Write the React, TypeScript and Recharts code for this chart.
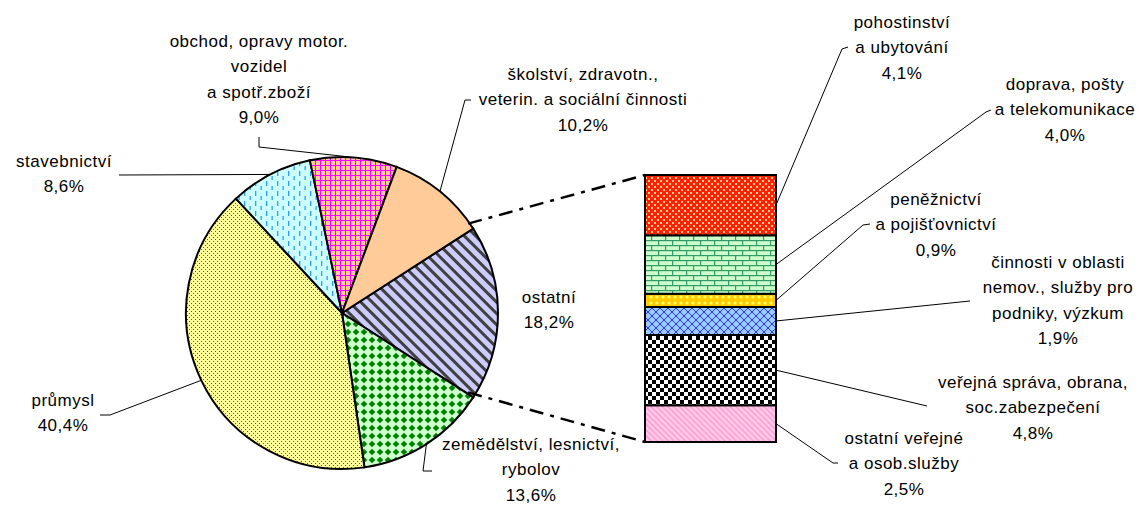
import { PieChart, Pie, Cell, BarChart, Bar, XAxis, YAxis } from 'recharts'

/* Koláč s vyčleněným sloupcem: struktura odvětví, „ostatní" rozpadnuté do sloupce vpravo. */

const W = 1141
const H = 506
const FONT = '"Liberation Sans", Arial, sans-serif'

// hlavní koláč — pořadí po směru hodin od „ostatní" (střed na 3 hodinách)
const PIE_LINES: string[][] = [
  ['ostatní'],
  ['zemědělství, lesnictví,', 'rybolov'],
  ['průmysl'],
  ['stavebnictví'],
  ['obchod, opravy motor.', 'vozidel', 'a spotř.zboží'],
  ['školství, zdravotn.,', 'veterin. a sociální činnosti'],
]
const PIE_VALUES = [18.2, 13.6, 40.4, 8.6, 9.0, 10.2]
const PIE_FILLS = ['url(#pOst)', 'url(#pZem)', 'url(#pPrum)', 'url(#pStav)', 'url(#pObch)', '#FFCC99']

// sloupec „ostatní" — shora dolů
const BAR_KEYS = ['pohost', 'doprava', 'penez', 'cinnosti', 'verejna', 'ostverej']
const BAR_LINES: string[][] = [
  ['pohostinství', 'a ubytování'],
  ['doprava, pošty', 'a telekomunikace'],
  ['peněžnictví', 'a pojišťovnictví'],
  ['činnosti v oblasti', 'nemov., služby pro', 'podniky, výzkum'],
  ['veřejná správa, obrana,', 'soc.zabezpečení'],
  ['ostatní veřejné', 'a osob.služby'],
]
const BAR_VALUES = [4.1, 4.0, 0.9, 1.9, 4.8, 2.5]
const BAR_FILLS = ['url(#bPoh)', 'url(#bDop)', 'url(#bPen)', 'url(#bCin)', 'url(#bVer)', 'url(#bOst)']

// rozložení popisků (střed textu, první řádek) a lomy vodicích čar
const PIE_CX = 337
const PIE_CY = 308
const PIE_R = 156
const LINE_H = 25.5
const PIE_LABEL_POS = [
  { x: 549, y: 297 },
  { x: 531, y: 444 },
  { x: 63, y: 400 },
  { x: 64, y: 161 },
  { x: 259, y: 41 },
  { x: 583, y: 74 },
]
const PIE_LEADER: number[][][] = [
  [],
  [[423, 471], [432, 471]],
  [[110, 415], [100, 415]],
  [[119, 175]],
  [[259, 147], [259, 137]],
  [[465, 100], [471, 100]],
]
const BAR_LABEL_POS = [
  { x: 902, y: 22 },
  { x: 1065, y: 84 },
  { x: 936, y: 199 },
  { x: 1058, y: 262 },
  { x: 1033, y: 382 },
  { x: 904, y: 438 },
]
const BAR_LEADER: number[][][] = [
  [[842, 49], [848, 47]],
  [[986, 112], [991, 110]],
  [[863, 225], [870, 224]],
  [[970, 301]],
  [[927, 406]],
  [[833, 463], [838, 463]],
]
const BAR_BOX = { top: 175, bottom: 442, left: 645, right: 776 }

const fmt = (v: number) => v.toFixed(1).replace('.', ',') + '%'
const START_ANGLE = (PIE_VALUES[0] * 3.6) / 2

function Lines({ x, y, lines }: { x: number; y: number; lines: string[] }) {
  return (
    <g>
      {lines.map((t, k) => (
        <text
          key={k}
          x={x}
          y={y + k * LINE_H}
          textAnchor="middle"
          dominantBaseline="central"
          fontFamily={FONT}
          fontSize={17}
          letterSpacing={0.5}
          fill="#000"
        >
          {t}
        </text>
      ))}
    </g>
  )
}

const leaderPath = (from: number[], pts: number[][]) =>
  [from, ...pts].map((p) => p.join(',')).join(' ')

const renderPieLabel = (p: any) => {
  const i = p.index
  const rad = (-p.midAngle * Math.PI) / 180
  const edge = [p.cx + p.outerRadius * Math.cos(rad), p.cy + p.outerRadius * Math.sin(rad)]
  const pos = PIE_LABEL_POS[i]
  return (
    <g key={`pl${i}`}>
      {PIE_LEADER[i].length > 0 && (
        <polyline points={leaderPath(edge, PIE_LEADER[i])} fill="none" stroke="#000" strokeWidth={1} />
      )}
      <Lines x={pos.x} y={pos.y} lines={[...PIE_LINES[i], fmt(PIE_VALUES[i])]} />
    </g>
  )
}

const connector = (toX: number, toY: number, up: boolean) => {
  const a = (START_ANGLE * Math.PI) / 180
  const px = PIE_CX + PIE_R * Math.cos(a)
  const py = PIE_CY + (up ? -1 : 1) * PIE_R * Math.sin(a)
  return (
    <line x1={px} y1={py} x2={toX} y2={toY} stroke="#000" strokeWidth={2.5} strokeDasharray="14 7 4 7" />
  )
}

const renderBarLabel = (p: any, i: number) => {
  const x = Number(p.x)
  const y = Number(p.y)
  const w = Number(p.width)
  const h = Number(p.height)
  const edge = [x + w, y + h / 2]
  const pos = BAR_LABEL_POS[i]
  return (
    <g key={`bl${i}`}>
      {i === 0 && connector(x, y, true)}
      {i === BAR_KEYS.length - 1 && connector(x, y + h, false)}
      <polyline points={leaderPath(edge, BAR_LEADER[i])} fill="none" stroke="#000" strokeWidth={1} />
      <Lines x={pos.x} y={pos.y} lines={[...BAR_LINES[i], fmt(BAR_VALUES[i])]} />
    </g>
  )
}

function Patterns() {
  return (
    <svg width={0} height={0} style={{ position: 'absolute' }}>
      <defs>
        <pattern id="pPrum" width={4} height={4} patternUnits="userSpaceOnUse">
          <rect width={4} height={4} fill="#FFFF99" />
          <rect x={1} y={1} width={1} height={1} fill="#555" />
          <rect x={3} y={3} width={1} height={1} fill="#555" />
        </pattern>
        <pattern id="pStav" width={11} height={10} patternUnits="userSpaceOnUse">
          <rect width={11} height={10} fill="#CCFFFF" />
          <rect x={2} y={1} width={1.3} height={5} fill="#3399FF" />
          <rect x={7.5} y={6} width={1.3} height={4} fill="#3399FF" />
        </pattern>
        <pattern id="pObch" width={5} height={5} patternUnits="userSpaceOnUse">
          <rect width={5} height={5} fill="#FFCC99" />
          <rect width={5} height={1} fill="#FF00FF" />
          <rect width={1} height={5} fill="#FF00FF" />
        </pattern>
        <pattern id="pOst" width={8} height={8} patternUnits="userSpaceOnUse" patternTransform="rotate(-45)">
          <rect width={8} height={8} fill="#CCCCFF" />
          <rect width={3} height={8} fill="#404040" />
        </pattern>
        <pattern id="pZem" width={8} height={8} patternUnits="userSpaceOnUse">
          <rect width={8} height={8} fill="#CCFFCC" />
          <polygon points="4,0.7 7.3,4 4,7.3 0.7,4" fill="#008000" />
        </pattern>
        <pattern id="bPoh" width={6} height={6} patternUnits="userSpaceOnUse">
          <rect width={6} height={6} fill="#FF2200" />
          <rect x={0} y={0} width={2} height={2} fill="#FFCC99" />
          <rect x={3} y={3} width={2} height={2} fill="#FFCC99" />
        </pattern>
        <pattern id="bDop" width={14} height={10} patternUnits="userSpaceOnUse">
          <rect width={14} height={10} fill="#CCFFCC" />
          <rect width={14} height={1.2} fill="#339966" />
          <rect y={5} width={14} height={1.2} fill="#339966" />
          <rect x={0} y={0} width={1.2} height={5} fill="#339966" />
          <rect x={7} y={5} width={1.2} height={5} fill="#339966" />
        </pattern>
        <pattern id="bPen" width={6} height={6} patternUnits="userSpaceOnUse">
          <rect width={6} height={6} fill="#FFCC00" />
          <circle cx={3} cy={3} r={1.6} fill="#FFFF66" />
        </pattern>
        <pattern id="bCin" width={8} height={8} patternUnits="userSpaceOnUse">
          <rect width={8} height={8} fill="#99CCFF" />
          <path d="M0,0 L8,8 M8,0 L0,8" stroke="#3333FF" strokeWidth={1} />
        </pattern>
        <pattern id="bVer" width={8} height={8} patternUnits="userSpaceOnUse">
          <rect width={8} height={8} fill="#FFFFFF" />
          <rect x={0} y={0} width={4} height={4} fill="#000" />
          <rect x={4} y={4} width={4} height={4} fill="#000" />
        </pattern>
        <pattern id="bOst" width={4} height={4} patternUnits="userSpaceOnUse" patternTransform="rotate(-45)">
          <rect width={4} height={4} fill="#FFCCEE" />
          <rect width={1.5} height={4} fill="#FF99CC" />
        </pattern>
      </defs>
    </svg>
  )
}

const PIE_DATA = PIE_VALUES.map((value, i) => ({ name: PIE_LINES[i].join(' '), value }))
const BAR_ROW: Record<string, number | string> = { name: 'ostatní' }
BAR_KEYS.forEach((k, i) => (BAR_ROW[k] = BAR_VALUES[i]))
// Recharts skládá odspodu → obrácené pořadí
const STACK_ORDER = BAR_KEYS.map((_, i) => i).reverse()

export default function App() {
  return (
    <div style={{ position: 'relative', width: W, height: H, background: '#fff' }}>
      <style>{'body{margin:0}'}</style>
      <Patterns />
      <div style={{ position: 'absolute', left: 0, top: 0 }}>
        <PieChart width={W} height={H}>
          <Pie
            data={PIE_DATA}
            dataKey="value"
            cx={PIE_CX}
            cy={PIE_CY}
            outerRadius={PIE_R}
            startAngle={START_ANGLE}
            endAngle={START_ANGLE - 360}
            stroke="#000"
            strokeWidth={2}
            label={renderPieLabel}
            labelLine={false}
            isAnimationActive={false}
          >
            {PIE_DATA.map((d, i) => (
              <Cell key={d.name} fill={PIE_FILLS[i]} stroke="#000" strokeWidth={2} />
            ))}
          </Pie>
        </PieChart>
      </div>
      <div style={{ position: 'absolute', left: 0, top: 0 }}>
        <BarChart
          width={W}
          height={H}
          data={[BAR_ROW]}
          margin={{ top: BAR_BOX.top, bottom: H - BAR_BOX.bottom, left: BAR_BOX.left, right: W - BAR_BOX.right }}
          barCategoryGap={0}
        >
          <XAxis dataKey="name" hide />
          <YAxis hide domain={[0, 'dataMax']} />
          {STACK_ORDER.map((i) => (
            <Bar
              key={BAR_KEYS[i]}
              dataKey={BAR_KEYS[i]}
              stackId="ost"
              fill={BAR_FILLS[i]}
              stroke="#000"
              strokeWidth={2}
              isAnimationActive={false}
              label={(p: any) => renderBarLabel(p, i)}
            />
          ))}
        </BarChart>
      </div>
    </div>
  )
}
